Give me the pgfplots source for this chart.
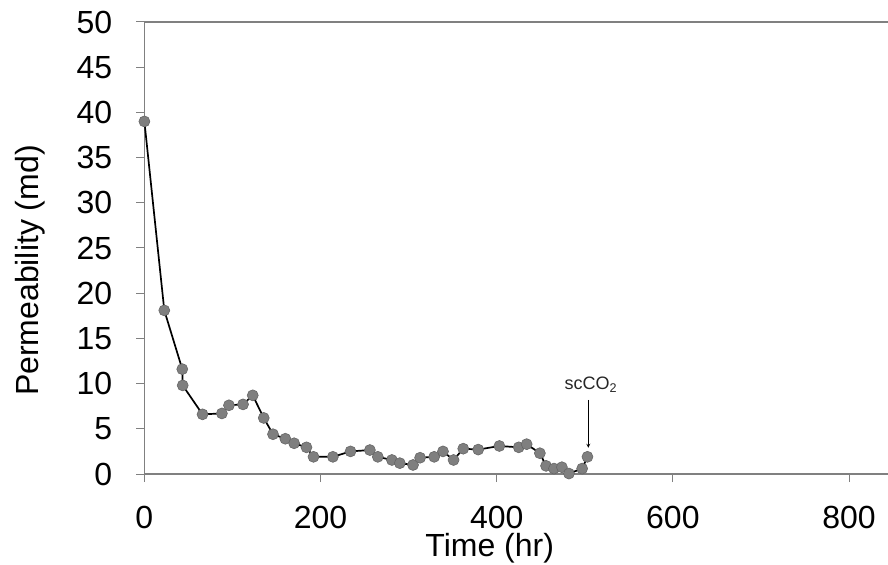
\documentclass[border=0pt]{standalone}
\usepackage{pgfplots}
\pgfplotsset{compat=1.18}
\usepackage{fontspec}
\setmainfont{Liberation Sans}
\definecolor{axgray}{HTML}{808080}
\definecolor{mkfill}{HTML}{7F7F7F}
\definecolor{mkedge}{HTML}{666666}
\begin{document}
\begin{tikzpicture}
\begin{axis}[
  x=0.8808bp, y=9.04bp,
  xmin=0, xmax=845, ymin=0, ymax=50,
  axis lines=left,
  axis line style={axgray, line width=1.2bp, -},
  xtick={0,200,400,600,800},
  ytick={0,5,...,50},
  tick align=outside,
  major tick length=8bp,
  tick style={axgray, line width=1bp},
  every tick label/.append style={font=\fontsize{32bp}{36bp}\selectfont, text=black},
  /pgf/number format/assume math mode=true,
  yticklabel style={anchor=east, inner sep=0pt, xshift=-24bp},
  xticklabel style={anchor=north, inner sep=0pt, yshift=-24bp},
  xlabel={Time (hr)},
  ylabel={Permeability (md)},
  label style={font=\fontsize{32bp}{36bp}\selectfont},
  xlabel style={at={(axis description cs:0.464,0)}, anchor=center, yshift=-74bp},
  ylabel style={at={(axis description cs:-0.1532,0.45)}, anchor=center},
  clip=false,
]
\addplot[black, line width=1.7bp, mark=*, mark size=5.5bp,
  mark options={fill=mkfill, draw=mkedge, line width=0.6bp}] coordinates {
(0,39.0) (22.6,18.1) (43,11.6) (43.5,9.8) (66,6.6) (88,6.7) (96,7.6)
(112,7.7) (123,8.7) (135.5,6.2) (146,4.4) (160,3.9) (170,3.4) (184,2.95)
(192,1.9) (214,1.9) (234,2.5) (256,2.65) (265,1.9) (281,1.55) (290,1.2)
(305,1.0) (313,1.8) (329,1.9) (339,2.5) (351,1.55) (362,2.8) (379,2.7)
(403,3.1) (425,2.95) (434,3.3) (449,2.3) (456,0.9) (465,0.6) (474,0.75)
(482,0.05) (497,0.6) (503,1.9)
};
\draw[axgray, line width=1.8bp] (axis cs:0,50) -- (axis cs:845,50);
\draw[black, line width=0.8bp, -stealth] (axis cs:504,8.2) -- (axis cs:504,2.9);
\node[font=\fontsize{18bp}{20bp}\selectfont, text=black!85] at (axis cs:507,9.9) {scCO\textsubscript{2}};
\end{axis}
\pgfresetboundingbox
\path[use as bounding box] (-144.4bp,-91bp) rectangle (743.6bp,474bp);
\end{tikzpicture}
\end{document}
